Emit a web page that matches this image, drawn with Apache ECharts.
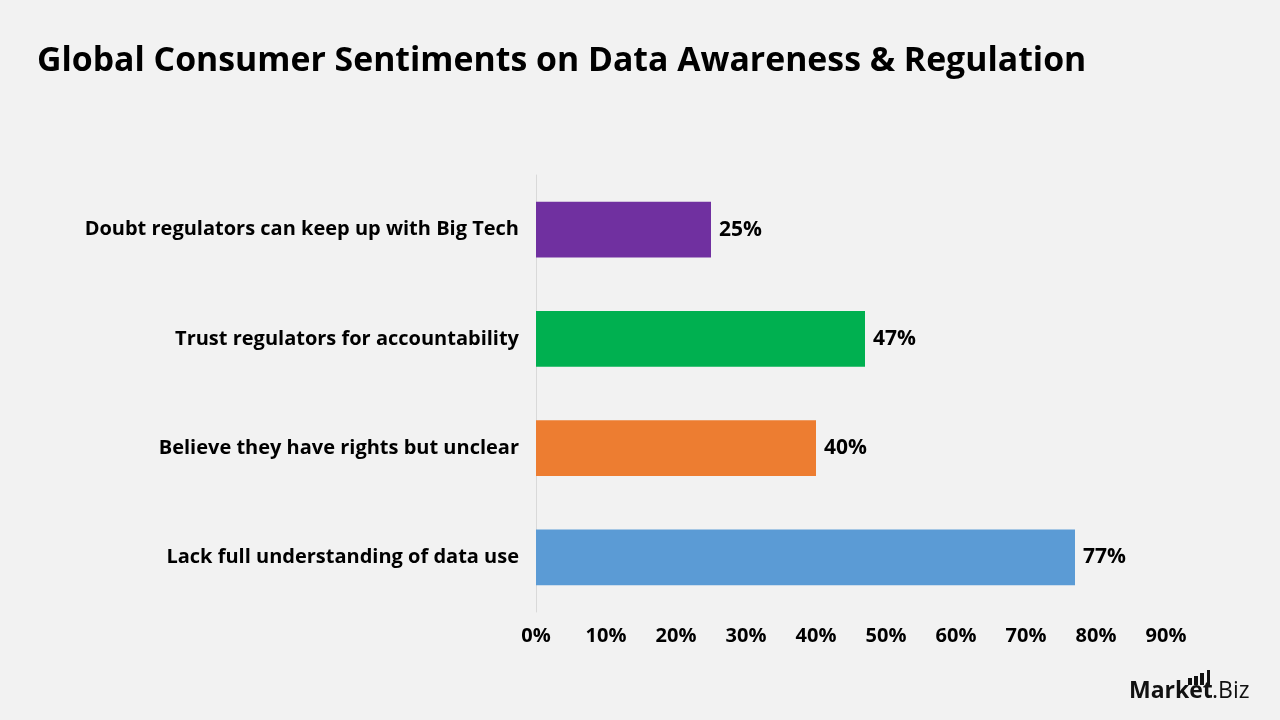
<!DOCTYPE html>
<html>
<head>
<meta charset="utf-8">
<script src="https://cdn.jsdelivr.net/npm/echarts@6/dist/echarts.min.js"></script>
<style>
html,body{margin:0;padding:0;background:#F2F2F2;}
#c{width:1280px;height:720px;}
</style>
</head>
<body>
<div id="c"></div>
<script>
const categories = [
  "Lack full understanding of data use",
  "Believe they have rights but unclear",
  "Trust regulators for accountability",
  "Doubt regulators can keep up with Big Tech"
];
const values = [77, 40, 47, 25];
const barColors = ["#5B9BD5", "#ED7D31", "#00B050", "#7030A0"];
const axisTicks = [0, 10, 20, 30, 40, 50, 60, 70, 80, 90];

const FONT = "Open Sans";
const chart = echarts.init(document.getElementById('c'));
chart.setOption({
  backgroundColor: "#F2F2F2",
  title: {
    text: "Global Consumer Sentiments on Data Awareness & Regulation",
    left: 32, top: 39,
    textStyle: {fontFamily: FONT, fontWeight: "bold", fontSize: 33.8, color: "#000"}
  },
  grid: {left: 536, right: 114, top: 175, bottom: 108, containLabel: false},
  xAxis: {
    type: "value", min: 0, max: 90, interval: 10,
    axisLine: {show: false}, axisTick: {show: false}, splitLine: {show: false},
    axisLabel: {formatter: v => v + "%", margin: 14, fontFamily: FONT, fontWeight: "bold", fontSize: 20, color: "#000"}
  },
  yAxis: {
    type: "category", data: categories,
    axisLine: {show: true, lineStyle: {color: "#D9D9D9", width: 1}},
    axisTick: {show: false},
    axisLabel: {margin: 17, fontFamily: FONT, fontWeight: "bold", fontSize: 20, color: "#000", padding: [3, 0, 0, 0]}
  },
  series: [{
    type: "bar",
    data: values.map((v, i) => ({value: v, itemStyle: {color: barColors[i]}})),
    barWidth: "51%",
    label: {show: true, position: "right", distance: 8, formatter: "{c}%", fontFamily: FONT, fontWeight: "bold", fontSize: 21, color: "#000", padding: [3, 0, 0, 0]}
  }],
  graphic: [
    {type: "text", left: 1129, top: 680, style: {text: "Market", font: "bold 23px " + FONT, fill: "#111"}},
    {type: "text", left: 1212, top: 680, style: {text: ".Biz", font: "23px " + FONT, fill: "#111"}},
    {type: "rect", shape: {x: 1188, y: 678, width: 4, height: 7}, style: {fill: "#111"}},
    {type: "rect", shape: {x: 1194, y: 676, width: 4, height: 9}, style: {fill: "#111"}},
    {type: "rect", shape: {x: 1200, y: 673, width: 4, height: 12}, style: {fill: "#111"}},
    {type: "rect", shape: {x: 1207, y: 670, width: 3, height: 15}, style: {fill: "#111"}}
  ]
});
</script>
</body>
</html>
